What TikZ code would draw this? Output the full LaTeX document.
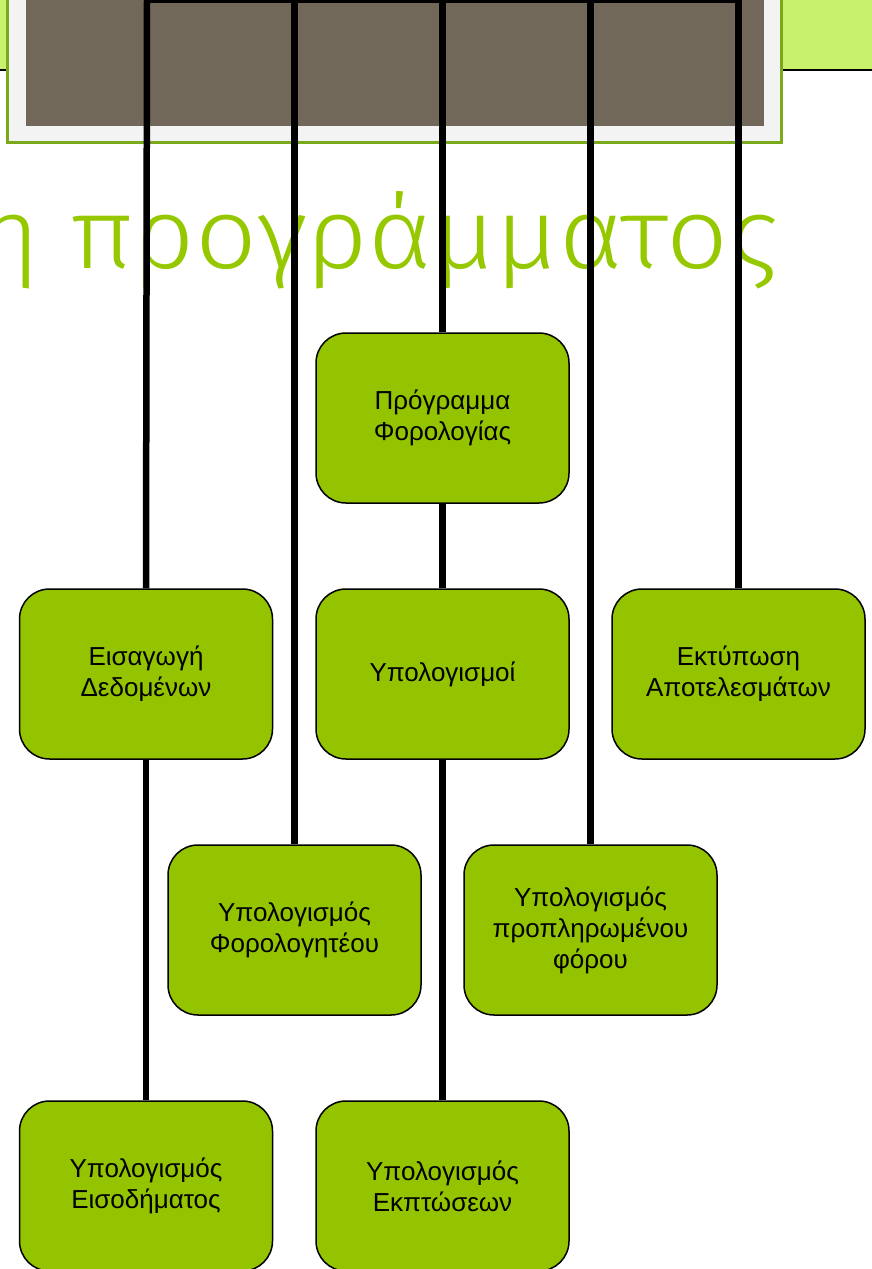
\documentclass[tikz,border=0pt]{standalone}
\usepackage{fontspec}
\setmainfont{Liberation Sans}
\newfontfamily\titlefont{Fira Sans Light}
\definecolor{boxgreen}{RGB}{148,196,0}
\definecolor{titlegreen}{RGB}{150,200,0}
\definecolor{lightgreen}{RGB}{200,242,110}
\definecolor{framegreen}{RGB}{122,170,26}
\definecolor{framegray}{RGB}{243,243,243}
\definecolor{framebrown}{RGB}{113,104,90}
\tikzset{
  orgbox/.style={draw=black, line width=1.5pt, fill=boxgreen, rounded corners=30pt,
    minimum width=253pt, minimum height=170pt, inner sep=0pt, align=center,
    font=\fontsize{26}{31}\selectfont},
  link/.style={line width=6.5pt, draw=black},
}
\begin{document}
\begin{tikzpicture}[x=1pt,y=-1pt]
\useasboundingbox (0,0) rectangle (872,1269);
\clip (0,0) rectangle (872,1269);
% top decoration
\fill[lightgreen] (0,0) rectangle (872,69);
\draw[line width=2pt] (0,70) -- (872,70);
\fill[framegreen] (6,-5) rectangle (783,144);
\fill[framegray] (9,-5) rectangle (780,141);
\fill[framebrown] (26,-5) rectangle (764,126);
% title
\node[anchor=base east, font=\titlefont\fontsize{100}{100}\selectfont, text=titlegreen, inner sep=0pt, xscale=1.085] (title) at (778,268) {η προγράμματος};
% boxes
\node[orgbox] (root) at (442.5,418) {Πρόγραμμα\\Φορολογίας};
\node[orgbox] (input) at (146,674) {Εισαγωγή\\Δεδομένων};
\node[orgbox] (calc) at (442.5,674) {Υπολογισμοί};
\node[orgbox] (print) at (738.5,674) {Εκτύπωση\\Αποτελεσμάτων};
\node[orgbox] (taxable) at (294.5,930) {Υπολογισμός\\Φορολογητέου};
\node[orgbox] (prepaid) at (590.5,930) {Υπολογισμός\\προπληρωμένου\\φόρου};
\node[orgbox] (income) at (146,1186) {Υπολογισμός\\Εισοδήματος};
\node[orgbox] (deduct) at (442.5,1186) {Υπολογισμός\\Εκπτώσεων};
% connectors
\coordinate (t1) at (147,0);
\coordinate (t2) at (294.5,0);
\coordinate (t3) at (442.5,0);
\coordinate (t4) at (590.5,0);
\coordinate (t5) at (738.5,0);
\draw[link] (t1) -- (t5);
\draw[link] (t1) -- (input.north);
\draw[link] (input.south) -- (income.north);
\draw[link] (t2) -- (taxable.north);
\draw[link] (t3) -- (root.north);
\draw[link] (root.south) -- (calc.north);
\draw[link] (calc.south) -- (deduct.north);
\draw[link] (t4) -- (prepaid.north);
\draw[link] (t5) -- (print.north);
\end{tikzpicture}
\end{document}
